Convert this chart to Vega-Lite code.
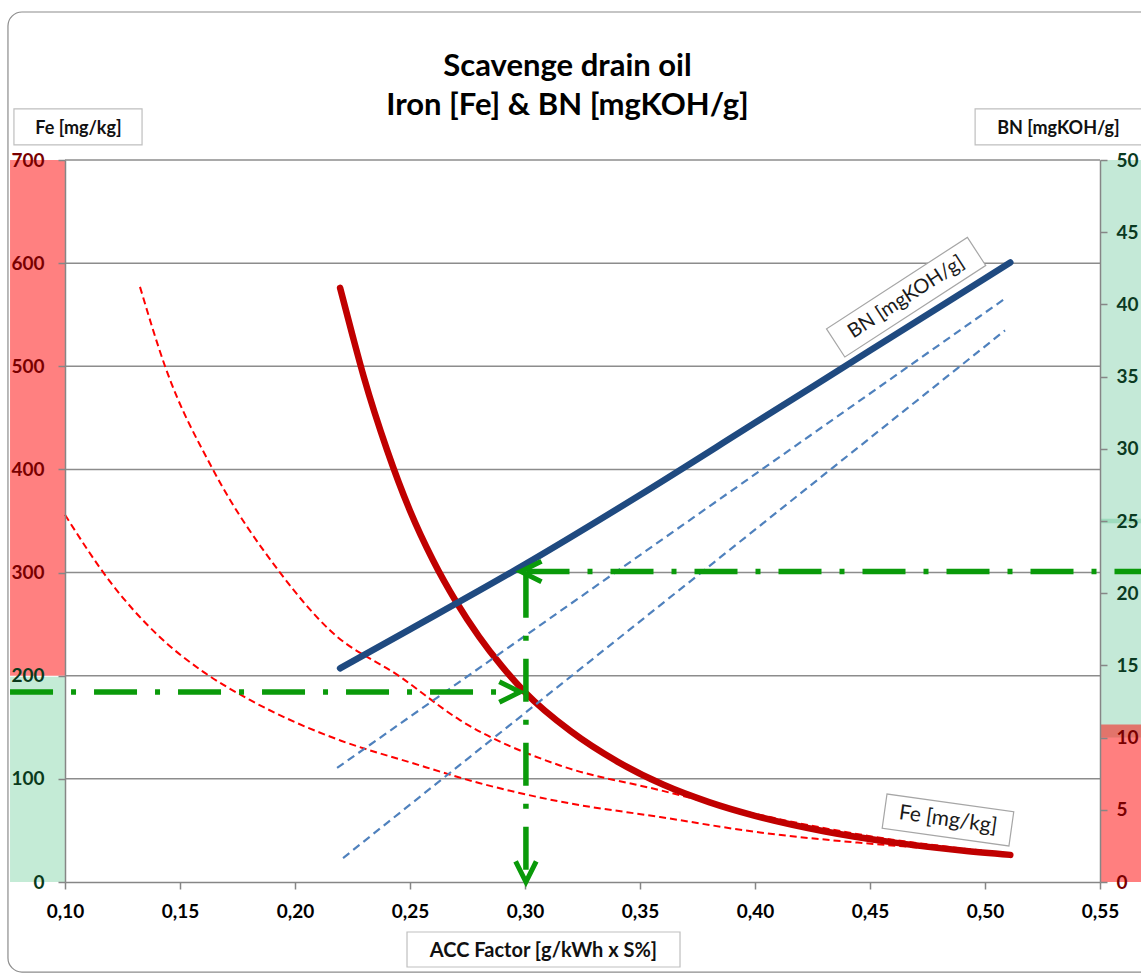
{
  "$schema": "https://vega.github.io/schema/vega-lite/v6.json",
  "width": 1035,
  "height": 722,
  "autosize": {"type": "none"},
  "padding": {"left": 65, "top": 160, "right": 41, "bottom": 95},
  "background": "#ffffff",
  "config": {"view": {"stroke": null}, "font": "Lato"},
  "title": {
    "text": ["Scavenge drain oil", "Iron [Fe] & BN [mgKOH/g]"],
    "font": "Lato", "fontSize": 31, "fontWeight": "bold", "color": "#000000",
    "anchor": "middle", "frame": "group", "dx": -15, "offset": -111, "lineHeight": 39
  },
  "datasets": {
    "feBands": [
      {"x0": 0.0761, "x1": 0.1, "lo": 0, "hi": 199, "zone": "ok"},
      {"x0": 0.0761, "x1": 0.1, "lo": 200, "hi": 700, "zone": "bad"}
    ],
    "bnBands": [
      {"x0": 0.55, "x1": 0.575, "lo": 10, "hi": 25.15, "zone": "ok"},
      {"x0": 0.55, "x1": 0.575, "lo": 24.85, "hi": 50, "zone": "ok"},
      {"x0": 0.55, "x1": 0.575, "lo": 0, "hi": 10.9, "zone": "bad"}
    ],
    "grid": [{"fe": 100}, {"fe": 200}, {"fe": 300}, {"fe": 400}, {"fe": 500}, {"fe": 600}, {"fe": 700}],
    "feMain": [
      {"x": 0.2196, "fe": 576}, {"x": 0.225, "fe": 530}, {"x": 0.23, "fe": 489},
      {"x": 0.24, "fe": 419}, {"x": 0.25, "fe": 360}, {"x": 0.26, "fe": 312},
      {"x": 0.27, "fe": 272}, {"x": 0.28, "fe": 238}, {"x": 0.29, "fe": 209},
      {"x": 0.30, "fe": 184}, {"x": 0.32, "fe": 146}, {"x": 0.34, "fe": 117},
      {"x": 0.36, "fe": 94.5}, {"x": 0.38, "fe": 77.5}, {"x": 0.40, "fe": 64.2},
      {"x": 0.43, "fe": 49.2}, {"x": 0.46, "fe": 38.4}, {"x": 0.49, "fe": 30.5},
      {"x": 0.511, "fe": 26.3}
    ],
    "feLimits": [
      {"curve": "upper", "x": 0.1326, "fe": 577}, {"curve": "upper", "x": 0.1435, "fe": 500},
      {"curve": "upper", "x": 0.1643, "fe": 400}, {"curve": "upper", "x": 0.1935, "fe": 300},
      {"curve": "upper", "x": 0.2152, "fe": 244}, {"curve": "upper", "x": 0.2457, "fe": 199},
      {"curve": "upper", "x": 0.2717, "fe": 157}, {"curve": "upper", "x": 0.3152, "fe": 113},
      {"curve": "upper", "x": 0.3587, "fe": 89}, {"curve": "upper", "x": 0.4022, "fe": 65},
      {"curve": "upper", "x": 0.4457, "fe": 46}, {"curve": "upper", "x": 0.5087, "fe": 28},
      {"curve": "lower", "x": 0.10, "fe": 356}, {"curve": "lower", "x": 0.12, "fe": 290},
      {"curve": "lower", "x": 0.14, "fe": 240}, {"curve": "lower", "x": 0.16, "fe": 204},
      {"curve": "lower", "x": 0.18, "fe": 177}, {"curve": "lower", "x": 0.20, "fe": 155},
      {"curve": "lower", "x": 0.22, "fe": 137}, {"curve": "lower", "x": 0.25, "fe": 116},
      {"curve": "lower", "x": 0.28, "fe": 96}, {"curve": "lower", "x": 0.3152, "fe": 78},
      {"curve": "lower", "x": 0.3587, "fe": 63}, {"curve": "lower", "x": 0.4022, "fe": 48},
      {"curve": "lower", "x": 0.4457, "fe": 38}, {"curve": "lower", "x": 0.5087, "fe": 28}
    ],
    "bnMain": [
      {"x": 0.2196, "bn": 14.8}, {"x": 0.25, "bn": 17.5}, {"x": 0.30, "bn": 22.0},
      {"x": 0.35, "bn": 26.8}, {"x": 0.40, "bn": 31.8}, {"x": 0.45, "bn": 36.8},
      {"x": 0.511, "bn": 42.9}
    ],
    "bnLimits": [
      {"line": "upper", "x": 0.2183, "bn": 7.9}, {"line": "upper", "x": 0.5087, "bn": 40.4},
      {"line": "lower", "x": 0.2209, "bn": 1.66}, {"line": "lower", "x": 0.5087, "bn": 38.2}
    ],
    "guides": [
      {"seg": "top", "k": 0, "x": 0.575, "fe": 301}, {"seg": "top", "k": 1, "x": 0.2985, "fe": 301},
      {"seg": "vert", "k": 0, "x": 0.3004, "fe": 298}, {"seg": "vert", "k": 1, "x": 0.3004, "fe": 1},
      {"seg": "left", "k": 0, "x": 0.0761, "fe": 184.2}, {"seg": "left", "k": 1, "x": 0.2975, "fe": 184.2}
    ],
    "heads": [
      {"x": 0.2978, "fe": 184.2, "dir": "right"},
      {"x": 0.2982, "fe": 301, "dir": "left"},
      {"x": 0.3004, "fe": 0, "dir": "down"}
    ],
    "notes": [
      {"x": 0.4657, "fe": 567, "label": "BN [mgKOH/g]", "kind": "bn"},
      {"x": 0.4839, "fe": 60.1, "label": "Fe [mg/kg]", "kind": "fe"}
    ]
  },
  "layer": [
    {
      "layer": [
        {
          "data": {"name": "feBands"},
          "transform": [{"filter": "datum.zone == 'ok'"}],
          "mark": {"type": "rect", "color": "#c4ebd6"},
          "encoding": {
            "x": {"field": "x0", "type": "quantitative", "scale": {"domain": [0.1, 0.55], "nice": false, "zero": false}},
            "x2": {"field": "x1"},
            "y": {"field": "lo", "type": "quantitative", "scale": {"domain": [0, 700], "nice": false}},
            "y2": {"field": "hi"}
          }
        },
        {
          "data": {"name": "feBands"},
          "transform": [{"filter": "datum.zone == 'bad'"}],
          "mark": {"type": "rect", "color": "#ff8080"},
          "encoding": {
            "x": {"field": "x0", "type": "quantitative", "scale": {"domain": [0.1, 0.55], "nice": false, "zero": false}},
            "x2": {"field": "x1"},
            "y": {"field": "lo", "type": "quantitative", "scale": {"domain": [0, 700], "nice": false}},
            "y2": {"field": "hi"}
          }
        },
        {
          "data": {"name": "grid"},
          "mark": {"type": "rule", "color": "#8c8c8c", "strokeWidth": 1.5},
          "encoding": {
            "y": {
              "field": "fe", "type": "quantitative", "scale": {"domain": [0, 700], "nice": false},
              "axis": {
                "orient": "left", "values": [0, 100, 200, 300, 400, 500, 600, 700],
                "labelFont": "Lato", "labelFontSize": 19, "labelFontWeight": "bold",
                "labelColor": {"condition": {"test": "datum.value >= 300", "value": "#7a0000"}, "value": "#0b3a1c"},
                "labelPadding": 14, "labelFlush": false, "labelOverlap": false,
                "tickColor": "#868686", "tickSize": 7, "tickWidth": 1.5,
                "domainColor": "#868686", "domainWidth": 1.5, "grid": false,
                "title": "Fe [mg/kg]", "titleFont": "Lato", "titleFontSize": 18, "titleFontWeight": "bold",
                "titleColor": "#111111", "titleAngle": 0, "titleX": 13, "titleY": -32,
                "titleAlign": "center", "titleBaseline": "middle", "zindex": 1
              }
            }
          }
        },
        {
          "data": {"name": "feLimits"},
          "mark": {"type": "line", "color": "#ff0000", "strokeWidth": 2, "strokeDash": [7, 4], "interpolate": "monotone"},
          "encoding": {
            "x": {"field": "x", "type": "quantitative", "scale": {"domain": [0.1, 0.55], "nice": false, "zero": false}},
            "y": {"field": "fe", "type": "quantitative", "scale": {"domain": [0, 700], "nice": false}},
            "detail": {"field": "curve", "type": "nominal"}
          }
        },
        {
          "data": {"name": "feMain"},
          "mark": {"type": "line", "color": "#c00000", "strokeWidth": 6.5, "strokeCap": "round", "interpolate": "monotone"},
          "encoding": {
            "x": {
              "field": "x", "type": "quantitative", "scale": {"domain": [0.1, 0.55], "nice": false, "zero": false},
              "axis": {
                "values": [0.1, 0.15, 0.2, 0.25, 0.3, 0.35, 0.4, 0.45, 0.5, 0.55],
                "labelExpr": "replace(format(datum.value, '.2f'), '.', ',')",
                "labelFont": "Lato", "labelFontSize": 19, "labelFontWeight": "bold", "labelColor": "#000000",
                "labelPadding": 13, "labelFlush": false, "labelOverlap": false,
                "tickColor": "#868686", "tickSize": 7, "tickWidth": 1.5,
                "domainColor": "#868686", "domainWidth": 1.5, "grid": false,
                "title": "ACC Factor [g/kWh x S%]", "titleFont": "Lato", "titleFontSize": 20, "titleFontWeight": "bold",
                "titleColor": "#111111", "titleX": 478, "titleY": 68,
                "titleAlign": "center", "titleBaseline": "middle"
              }
            },
            "y": {"field": "fe", "type": "quantitative", "scale": {"domain": [0, 700], "nice": false}}
          }
        }
      ]
    },
    {
      "layer": [
        {
          "data": {"name": "bnBands"},
          "transform": [{"filter": "datum.zone == 'ok'"}],
          "mark": {"type": "rect", "color": "#5cc18f", "opacity": 0.36},
          "encoding": {
            "x": {"field": "x0", "type": "quantitative", "scale": {"domain": [0.1, 0.55], "nice": false, "zero": false}},
            "x2": {"field": "x1"},
            "y": {"field": "lo", "type": "quantitative", "scale": {"domain": [0, 50], "nice": false},
              "axis": {
                "orient": "right", "values": [0, 5, 10, 15, 20, 25, 30, 35, 40, 45, 50],
                "labelFont": "Lato", "labelFontSize": 19, "labelFontWeight": "bold",
                "labelColor": {"condition": {"test": "datum.value >= 12", "value": "#0b3a22"}, "value": "#7a0000"},
                "labelPadding": 9, "labelFlush": false, "labelOverlap": false,
                "tickColor": "#868686", "tickSize": 7, "tickWidth": 1.5,
                "domainColor": "#868686", "domainWidth": 1.5, "grid": false,
                "title": "BN [mgKOH/g]", "titleFont": "Lato", "titleFontSize": 18, "titleFontWeight": "bold",
                "titleColor": "#111111", "titleAngle": 0, "titleX": -42, "titleY": -32,
                "titleAlign": "center", "titleBaseline": "middle", "zindex": 1
              }
            },
            "y2": {"field": "hi"}
          }
        },
        {
          "data": {"name": "bnBands"},
          "transform": [{"filter": "datum.zone == 'bad'"}],
          "mark": {"type": "rect", "color": "#ff0000", "opacity": 0.5},
          "encoding": {
            "x": {"field": "x0", "type": "quantitative", "scale": {"domain": [0.1, 0.55], "nice": false, "zero": false}},
            "x2": {"field": "x1"},
            "y": {"field": "lo", "type": "quantitative", "scale": {"domain": [0, 50], "nice": false}},
            "y2": {"field": "hi"}
          }
        },
        {
          "data": {"name": "bnLimits"},
          "mark": {"type": "line", "color": "#4f81bd", "strokeWidth": 2.2, "strokeDash": [8, 5]},
          "encoding": {
            "x": {"field": "x", "type": "quantitative", "scale": {"domain": [0.1, 0.55], "nice": false, "zero": false}},
            "y": {"field": "bn", "type": "quantitative", "scale": {"domain": [0, 50], "nice": false}},
            "detail": {"field": "line", "type": "nominal"}
          }
        },
        {
          "data": {"name": "bnMain"},
          "mark": {"type": "line", "color": "#1f4a80", "strokeWidth": 6.5, "strokeCap": "round", "interpolate": "monotone"},
          "encoding": {
            "x": {"field": "x", "type": "quantitative", "scale": {"domain": [0.1, 0.55], "nice": false, "zero": false}},
            "y": {"field": "bn", "type": "quantitative", "scale": {"domain": [0, 50], "nice": false}}
          }
        }
      ]
    },
    {
      "layer": [
        {
          "data": {"name": "guides"},
          "mark": {"type": "line", "color": "#0a9a0a", "strokeWidth": 5.5, "strokeDash": [43, 18, 5, 18]},
          "encoding": {
            "x": {"field": "x", "type": "quantitative", "scale": {"domain": [0.1, 0.55], "nice": false, "zero": false}},
            "y": {"field": "fe", "type": "quantitative", "scale": {"domain": [0, 700], "nice": false}, "axis": null},
            "detail": {"field": "seg", "type": "nominal"},
            "order": {"field": "k", "type": "quantitative"}
          }
        },
        {
          "data": {"name": "heads"},
          "mark": {"type": "point", "filled": false, "color": "#0a9a0a", "strokeWidth": 5, "size": 1700, "opacity": 1},
          "encoding": {
            "x": {"field": "x", "type": "quantitative", "scale": {"domain": [0.1, 0.55], "nice": false, "zero": false}},
            "y": {"field": "fe", "type": "quantitative", "scale": {"domain": [0, 700], "nice": false}, "axis": null},
            "shape": {"field": "dir", "type": "nominal", "legend": null,
              "scale": {"domain": ["right", "left", "down"], "range": ["M-1,-0.5L0,0L-1,0.5", "M1,-0.5L0,0L1,0.5", "M-0.5,-1L0,0L0.5,-1"]}}
          }
        },
        {
          "data": {"name": "notes"},
          "transform": [{"filter": "datum.kind == 'bn'"}],
          "mark": {"type": "point", "shape": "M-1,-0.2L1,-0.2L1,0.2L-1,0.2Z", "size": 28224, "angle": 327, "filled": true, "fill": "#ffffff", "stroke": "#a6a6a6", "strokeWidth": 1.2, "opacity": 1},
          "encoding": {
            "x": {"field": "x", "type": "quantitative", "scale": {"domain": [0.1, 0.55], "nice": false, "zero": false}},
            "y": {"field": "fe", "type": "quantitative", "scale": {"domain": [0, 700], "nice": false}, "axis": null}
          }
        },
        {
          "data": {"name": "notes"},
          "transform": [{"filter": "datum.kind == 'fe'"}],
          "mark": {"type": "point", "shape": "M-1,-0.27L1,-0.27L1,0.27L-1,0.27Z", "size": 16384, "angle": 8, "filled": true, "fill": "#ffffff", "stroke": "#a6a6a6", "strokeWidth": 1.2, "opacity": 1},
          "encoding": {
            "x": {"field": "x", "type": "quantitative", "scale": {"domain": [0.1, 0.55], "nice": false, "zero": false}},
            "y": {"field": "fe", "type": "quantitative", "scale": {"domain": [0, 700], "nice": false}, "axis": null}
          }
        },
        {
          "data": {"name": "notes"},
          "transform": [{"filter": "datum.kind == 'bn'"}],
          "mark": {"type": "text", "angle": 327, "font": "Lato", "fontSize": 20, "color": "#1a1a1a", "align": "center", "baseline": "middle"},
          "encoding": {
            "x": {"field": "x", "type": "quantitative", "scale": {"domain": [0.1, 0.55], "nice": false, "zero": false}},
            "y": {"field": "fe", "type": "quantitative", "scale": {"domain": [0, 700], "nice": false}, "axis": null},
            "text": {"field": "label"}
          }
        },
        {
          "data": {"name": "notes"},
          "transform": [{"filter": "datum.kind == 'fe'"}],
          "mark": {"type": "text", "angle": 8, "font": "Lato", "fontSize": 21, "color": "#1a1a1a", "align": "center", "baseline": "middle"},
          "encoding": {
            "x": {"field": "x", "type": "quantitative", "scale": {"domain": [0.1, 0.55], "nice": false, "zero": false}},
            "y": {"field": "fe", "type": "quantitative", "scale": {"domain": [0, 700], "nice": false}, "axis": null},
            "text": {"field": "label"}
          }
        },
        {
          "data": {"values": [{"box": "left"}]},
          "mark": {"type": "rect", "fill": null, "stroke": "#bfbfbf", "strokeWidth": 1.2},
          "encoding": {
            "x": {"datum": 0.0778, "type": "quantitative", "scale": {"domain": [0.1, 0.55], "nice": false, "zero": false}},
            "x2": {"datum": 0.1335},
            "y": {"datum": 749.5, "type": "quantitative", "scale": {"domain": [0, 700], "nice": false}, "axis": null},
            "y2": {"datum": 714.6}
          }
        },
        {
          "data": {"values": [{"box": "right"}]},
          "mark": {"type": "rect", "fill": null, "stroke": "#bfbfbf", "strokeWidth": 1.2},
          "encoding": {
            "x": {"datum": 0.4957, "type": "quantitative", "scale": {"domain": [0.1, 0.55], "nice": false, "zero": false}},
            "x2": {"datum": 0.58},
            "y": {"datum": 749.5, "type": "quantitative", "scale": {"domain": [0, 700], "nice": false}, "axis": null},
            "y2": {"datum": 714.6}
          }
        },
        {
          "data": {"values": [{"box": "bottom"}]},
          "mark": {"type": "rect", "fill": null, "stroke": "#bfbfbf", "strokeWidth": 1.2},
          "encoding": {
            "x": {"datum": 0.2487, "type": "quantitative", "scale": {"domain": [0.1, 0.55], "nice": false, "zero": false}},
            "x2": {"datum": 0.3674},
            "y": {"datum": -48.5, "type": "quantitative", "scale": {"domain": [0, 700], "nice": false}, "axis": null},
            "y2": {"datum": -82.4}
          }
        },
        {
          "data": {"values": [{"box": "frame"}]},
          "mark": {"type": "rect", "fill": null, "stroke": "#8c8c8c", "strokeWidth": 1.2, "cornerRadius": 14},
          "encoding": {
            "x": {"datum": 0.0752, "type": "quantitative", "scale": {"domain": [0.1, 0.55], "nice": false, "zero": false}},
            "x2": {"datum": 0.58},
            "y": {"datum": 843.5, "type": "quantitative", "scale": {"domain": [0, 700], "nice": false}, "axis": null},
            "y2": {"datum": -87.3}
          }
        }
      ]
    }
  ],
  "resolve": {"scale": {"y": "independent"}}
}
